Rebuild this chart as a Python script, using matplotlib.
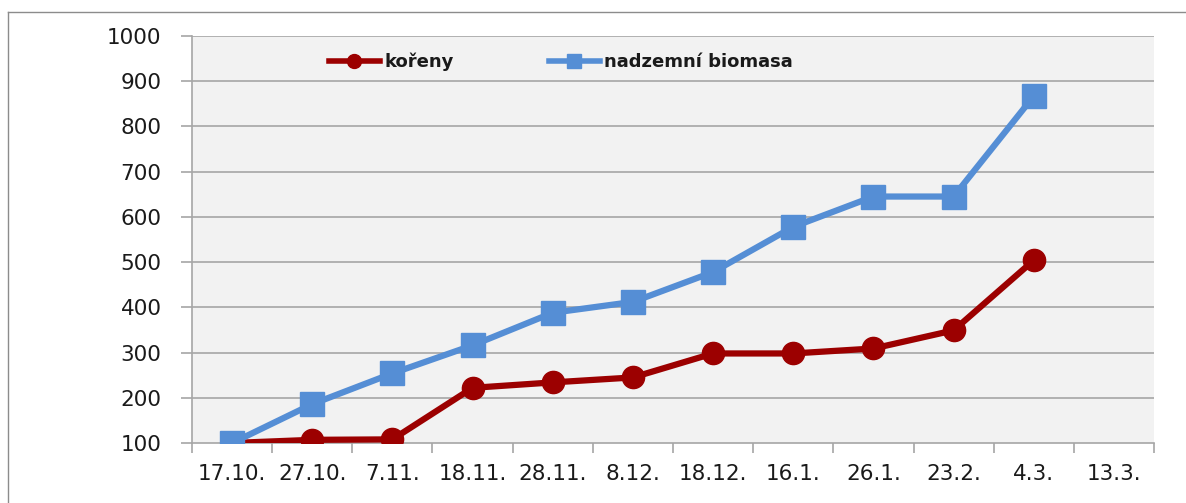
import numpy as np
import matplotlib
matplotlib.use("Agg")
import matplotlib.pyplot as plt
from matplotlib.lines import Line2D

# data
dates = ['17.10.', '27.10.', '7.11.', '18.11.', '28.11.', '8.12.',
         '18.12.', '16.1.', '26.1.', '23.2.', '4.3.', '13.3.']
koreny = [100, 107, 108, 222, 234, 245, 298, 298, 309, 349, 504]
nadzemni = [100, 186, 254, 316, 388, 412, 478, 578, 645, 645, 867]

red = '#9c0000'
blue = '#558ed5'
grid_c = '#a6a6a6'
txt_c = '#1a1a1a'

plt.rcParams['font.family'] = ['DejaVu Sans']

fig = plt.figure(figsize=(11.86, 5.03), dpi=100)
W, H = 1186, 503
ax = fig.add_axes([192 / W, (H - 443) / H, 962 / W, 407 / H])
ax.set_facecolor('#f2f2f2')

for yy in range(200, 1001, 100):
    ax.axhline(yy, color=grid_c, lw=1.2, zorder=1)

ax.plot(range(len(koreny)), koreny, '-o', color=red, lw=4.5, ms=16,
        solid_joinstyle='round', zorder=3)
ax.plot(range(len(nadzemni)), nadzemni, '-s', color=blue, lw=4.5, ms=17,
        solid_joinstyle='round', zorder=5)

ax.set_xlim(-0.5, len(dates) - 0.5)
ax.set_ylim(100, 1000)
ax.set_yticks(range(100, 1001, 100))
ax.set_xticks(np.arange(-0.5, len(dates), 1))
ax.set_xticklabels([])
ax.set_xticks(range(len(dates)), minor=True)
ax.set_xticklabels(dates, minor=True)
ax.tick_params(axis='x', which='major', length=7, color=grid_c, width=1.2)
ax.tick_params(axis='x', which='minor', length=0, pad=15, labelsize=15.5,
               labelcolor=txt_c)
ax.tick_params(axis='y', length=8, color=grid_c, width=1.2, pad=14,
               labelsize=15.5, labelcolor=txt_c)

for side in ['top', 'right']:
    ax.spines[side].set_visible(False)
for side in ['left', 'bottom']:
    ax.spines[side].set_color(grid_c)
    ax.spines[side].set_linewidth(1.2)

handles = [Line2D([], [], color=red, lw=4, marker='o', ms=10),
           Line2D([], [], color=blue, lw=4, marker='s', ms=10)]
leg = fig.legend(handles, ['kořeny', 'nadzemní biomasa'], ncol=2,
                 loc='center left', bbox_to_anchor=(320 / W, 1 - 62 / H),
                 frameon=False, handlelength=2.8, handletextpad=0.25,
                 columnspacing=5.3, borderpad=0,
                 prop={'weight': 'bold', 'size': 13})
for t in leg.get_texts():
    t.set_color(txt_c)

# outer chart border (left and top only, rest is cropped off)
fig.add_artist(Line2D([8 / W, 8 / W], [0, 1 - 12 / H], color='#8c8c8c', lw=1,
                      transform=fig.transFigure))
fig.add_artist(Line2D([8 / W, 1], [1 - 12 / H, 1 - 12 / H], color='#8c8c8c', lw=1,
                      transform=fig.transFigure))

fig.savefig('out.png', dpi=100)
